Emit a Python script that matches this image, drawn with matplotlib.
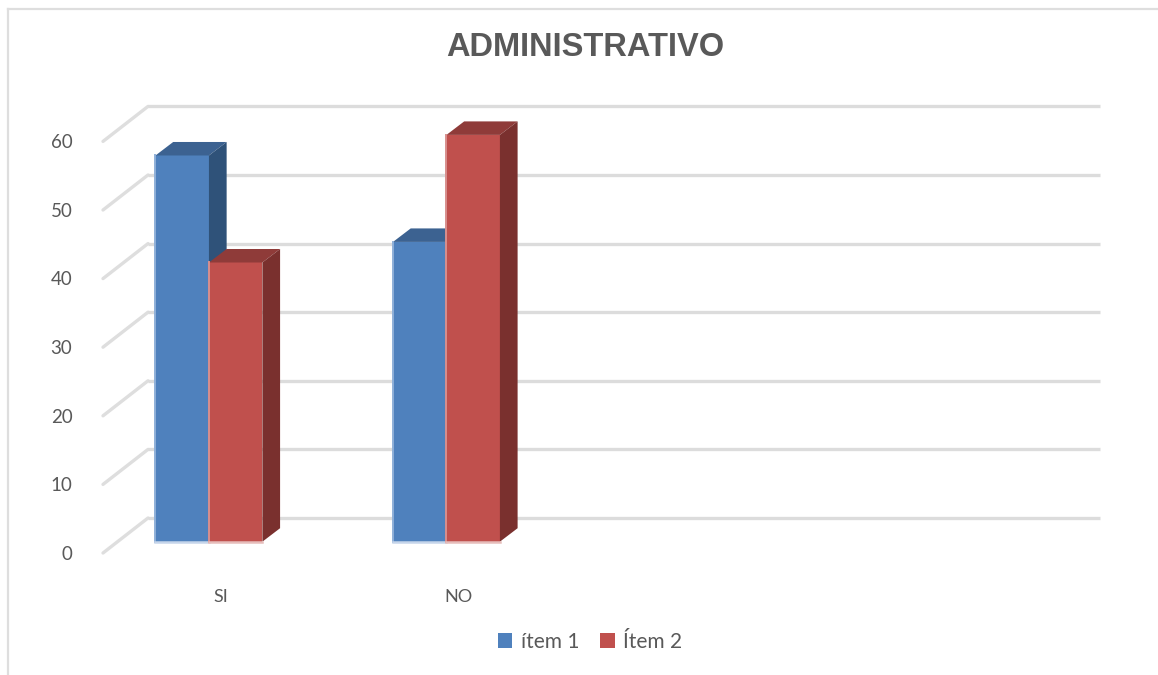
import matplotlib
matplotlib.use('Agg')
import matplotlib.pyplot as plt
import matplotlib.transforms as mtransforms
from matplotlib.lines import Line2D
from matplotlib.patches import Polygon
import numpy as np

categories = ['SI', 'NO']
item_1 = [56.3, 43.7]
item_2 = [40.7, 59.3]
series_names = ['ítem 1', 'Ítem 2']
y_ticks = [0, 10, 20, 30, 40, 50, 60]

plt.rcParams['font.family'] = ['Lato', 'DejaVu Sans']

fig = plt.figure(figsize=(11.58, 6.75), dpi=100)
ax = fig.add_axes([103 / 1158, 1 - 541.7 / 675, 952 / 1158, 411.6 / 675])
ax.set_xlim(-0.446, 3.562)
ax.set_ylim(0, 60)
ax.patch.set_alpha(0)
for spine in ax.spines.values():
    spine.set_visible(False)

# pixel sizes in data units, the fake 3d is all offsets
px_x = 1 / 237.5
px_y = 60 / 411.6
x = np.arange(len(categories))
width = 0.225
bar_dx = 17.7 * px_x
bar_dy = 13.5 * px_y

# back wall grid and the slanted side wall
wall_dx = 45 * px_x
for v in y_ticks:
    back_y = v + 23.7 * px_y
    front_y = v - 11.3 * px_y
    ax.plot([-0.446, -0.446 + wall_dx], [front_y, back_y], color='#dedede', lw=2.4,
            clip_on=False, zorder=1, solid_capstyle='round')
    ax.plot([-0.446 + wall_dx, 3.562 + wall_dx], [back_y, back_y], color='#dcdcdc', lw=2.4,
            clip_on=False, zorder=1, solid_capstyle='butt')


def draw_bars(xpos, values, front, top, side, edge, bottom_edge, z, label):
    ax.bar(xpos, values, width, color=front, zorder=z, label=label, clip_on=False)
    for xc, v in zip(xpos, values):
        l, r = xc - width / 2, xc + width / 2
        ax.add_patch(Polygon([(l, v), (r, v), (r + bar_dx, v + bar_dy), (l + bar_dx, v + bar_dy)],
                             closed=True, fc=top, ec='none', zorder=z, clip_on=False))
        ax.add_patch(Polygon([(r, 0), (r + bar_dx, bar_dy), (r + bar_dx, v + bar_dy), (r, v)],
                             closed=True, fc=side, ec='none', zorder=z, clip_on=False))
        ax.plot([l, l], [0, v], color=edge, lw=1.4, zorder=z + 0.1, clip_on=False)
        ax.plot([l, r], [0, 0], color=bottom_edge, lw=1.8, zorder=z + 0.1, clip_on=False)


draw_bars(x - width / 2, item_1, '#4f81bd', '#3c6291', '#2f5279', '#8fb0d8', '#c6d5ea', 3, series_names[0])
draw_bars(x + width / 2, item_2, '#c0504d', '#8f3b39', '#7a302e', '#d88f8d', '#e6bdbb', 4, series_names[1])

# tick labels sit on the front of the floor, not on the bar plane
ax.set_yticks(y_ticks)
ax.set_yticklabels([str(v) for v in y_ticks], fontsize=13.5, color='#595959')
ax.set_xticks(x + 12 * px_x)
ax.set_xticklabels(categories, fontsize=13, color='#595959')
ax.tick_params(axis='both', length=0)
ax.tick_params(axis='y', pad=22)
ax.tick_params(axis='x', pad=34)
down = mtransforms.ScaledTranslation(0, -11 / 100, fig.dpi_scale_trans)
for lab in ax.get_yticklabels():
    lab.set_transform(lab.get_transform() + down)

fig.text(585 / 1158, 1 - 48 / 675, 'ADMINISTRATIVO', fontsize=23.5, fontweight='bold',
         family='Liberation Sans', color='#595959', ha='center', va='center')

fig.legend(loc='center', bbox_to_anchor=(590 / 1158, 1 - 642 / 675), ncol=2, frameon=False,
           fontsize=15, labelcolor='#595959', handlelength=0.7, handleheight=0.7,
           handletextpad=0.4, columnspacing=1.0)

# chart frame, only top and left show in the reference
fig.add_artist(Line2D([8 / 1158, 1], [1 - 9 / 675, 1 - 9 / 675], color='#dedede', lw=1.6))
fig.add_artist(Line2D([8 / 1158, 8 / 1158], [1 - 9 / 675, 0], color='#dedede', lw=1.6))

fig.savefig('out.png', dpi=100)
